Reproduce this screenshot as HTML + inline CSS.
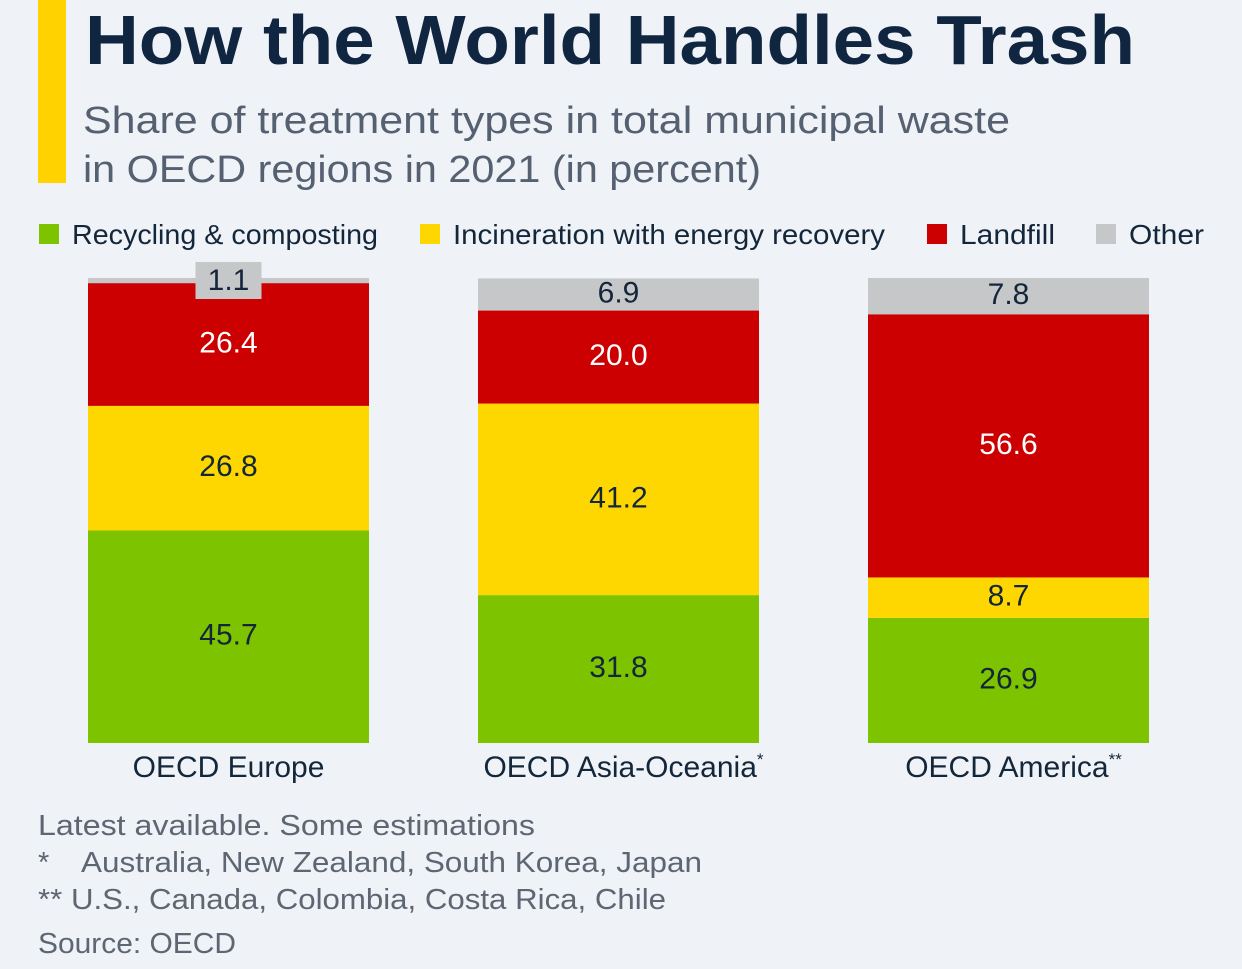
<!DOCTYPE html>
<html><head><meta charset="utf-8"><style>
html,body{margin:0;padding:0;background:#eff2f7;}
svg{display:block;font-family:"Liberation Sans","DejaVu Sans",sans-serif;}
</style></head><body>
<svg id="chart" width="1242" height="969" viewBox="0 0 1242 969">
<rect width="1242" height="969" fill="#eff2f7"/>
<rect x="38" y="0" width="28" height="183" fill="#ffd200"/>
<text x="85" y="64" font-size="70" font-weight="bold" fill="#10253f" textLength="1050" lengthAdjust="spacingAndGlyphs">How the World Handles Trash</text>
<text x="83" y="133" font-size="38" fill="#556070" textLength="927" lengthAdjust="spacingAndGlyphs">Share of treatment types in total municipal waste</text>
<text x="83" y="182" font-size="38" fill="#556070" textLength="678" lengthAdjust="spacingAndGlyphs">in OECD regions in 2021 (in percent)</text>
<g id="legend"></g>
<g id="bars"></g>
<g font-size="29" fill="#5d6672">
<text x="38" y="835" textLength="497" lengthAdjust="spacingAndGlyphs">Latest available. Some estimations</text>
<text x="38" y="872">*</text>
<text x="81" y="872" textLength="621" lengthAdjust="spacingAndGlyphs">Australia, New Zealand, South Korea, Japan</text>
<text x="38" y="909" textLength="628" lengthAdjust="spacingAndGlyphs">** U.S., Canada, Colombia, Costa Rica, Chile</text>
<text x="38" y="953" textLength="198" lengthAdjust="spacingAndGlyphs">Source: OECD</text>
</g>
</svg>
<script>
const categories = ["OECD Europe", "OECD Asia-Oceania", "OECD America"];
const catSup = ["", "*", "**"];
const seriesNames = ["Recycling & composting", "Incineration with energy recovery", "Landfill", "Other"];
const recycling = [45.7, 31.8, 26.9];
const incineration = [26.8, 41.2, 8.7];
const landfill = [26.4, 20.0, 56.6];
const other = [1.1, 6.9, 7.8];

const NS = "http://www.w3.org/2000/svg";
const colors = ["#7dc300", "#ffd700", "#cc0000", "#c6c7c9"];
const textColors = ["#13263a", "#13263a", "#ffffff", "#13263a"];
const series = [recycling, incineration, landfill, other];
const baseY = 743, plotH = 465;
const y = v => baseY - v / 100 * plotH;
const barW = 281;
const x = i => 88 + i * 390;
function mk(tag, attrs, parent) { const e = document.createElementNS(NS, tag); for (const k in attrs) e.setAttribute(k, attrs[k]); parent.appendChild(e); return e; }

const legend = document.getElementById("legend");
const legX = [39, 420, 927, 1096], legW = [306, 432, 95, 75];
seriesNames.forEach((n, s) => {
  const r = mk("rect", {x: legX[s], y: 224, width: 20, height: 20, fill: colors[s]}, legend);
  
  
  const t = mk("text", {x: legX[s] + 33, y: 244, "font-size": 28, fill: "#13263a", textLength: legW[s], lengthAdjust: "spacingAndGlyphs"}, legend);
  t.textContent = n;
  
  
});

const bars = document.getElementById("bars");
categories.forEach((c, i) => {
  let cum = 0;
  series.forEach((arr, s) => {
    const v = arr[i];
    const y0 = y(cum), y1 = y(cum + v);
    const r = mk("rect", {x: x(i), y: y1, width: barW, height: y0 - y1, fill: colors[s]}, bars);
    
    
    const h = y0 - y1;
    let ty = (y0 + y1) / 2 + 8;
    if (h < 30) {
      const b = mk("rect", {x: x(i) + barW / 2 - 33, y: y1 - 16, width: 66, height: 37, fill: colors[s]}, bars);
      
      
      ty = y1 + 12;
    }
    const t = mk("text", {x: x(i) + barW / 2, y: ty, "font-size": 30, "text-anchor": "middle", fill: textColors[s]}, bars);
    t.textContent = v.toFixed(1);
    
    
    cum += v;
  });
  const t = mk("text", {x: x(i) + barW / 2 + (catSup[i] ? 5 : 0), y: 777, "font-size": 30, "text-anchor": "middle", fill: "#13263a"}, bars);
  t.textContent = c;
  if (catSup[i]) { const sp = mk("tspan", {"font-size": 17, dy: -12}, t); sp.textContent = catSup[i]; }
  
  
});
</script>
</body></html>
